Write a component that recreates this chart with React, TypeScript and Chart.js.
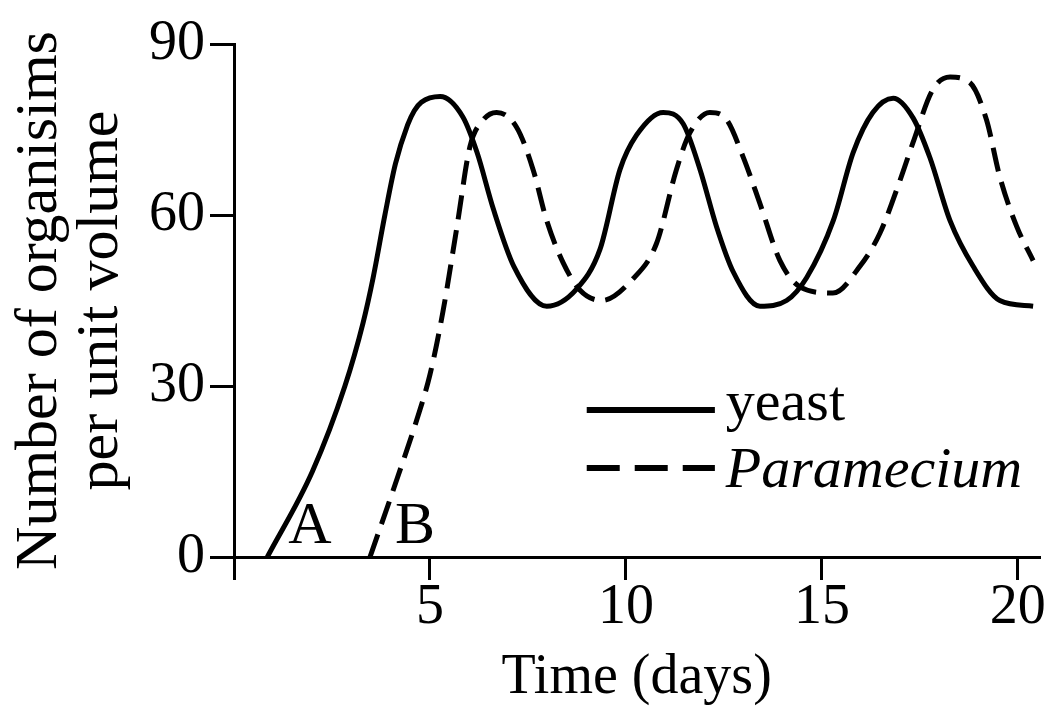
import { useEffect, useRef } from 'react';
import { Chart, registerables } from 'chart.js';

Chart.register(...registerables);

// ---- data ----
const yeastDays = [0.85, 2.0, 2.83, 3.29, 3.55, 3.85, 4.12, 4.43, 4.6, 4.78, 5.26, 5.84, 6.2, 6.62, 7.14, 7.98, 8.74, 9.34, 9.85, 10.27, 10.95, 11.46, 11.89, 12.31, 12.74, 13.42, 14.1, 14.61, 15.29, 15.8, 16.3, 16.82, 17.33, 17.76, 18.27, 18.86, 19.54, 20.39];
const yeastCounts = [0, 15, 30, 41, 49, 60, 69, 75.8, 78.3, 79.8, 80.8, 77.2, 71, 61, 51, 44, 47, 54, 68, 74, 78, 76, 68, 58, 50, 44, 45, 49, 59, 71, 78, 80.5, 77, 70, 59, 51, 45, 44];

const paramDays = [3.47, 4.15, 4.66, 5.0, 5.33, 5.69, 6.02, 6.36, 6.7, 7.21, 7.63, 7.98, 8.4, 8.83, 9.38, 10.15, 10.78, 11.29, 11.63, 12.14, 12.57, 12.99, 13.42, 13.93, 14.44, 15.28, 15.97, 16.48, 16.99, 17.32, 17.83, 18.27, 18.78, 19.2, 19.54, 19.97, 20.39];
const paramCounts = [0, 13.5, 24, 32, 43, 58, 72, 76.7, 78, 75.4, 68, 59, 51.6, 46.8, 45, 48.6, 55, 68, 74.4, 78, 76.7, 70.2, 62, 52, 47.4, 46.3, 51, 56.8, 66, 72.6, 82, 84.2, 83.2, 76.7, 66.7, 58, 52];

const seriesNames = ['yeast', 'Paramecium'];
const xTickValues = [0, 5, 10, 15, 20];
const yTickValues = [0, 30, 60, 90];
const xMax = 20.55;
const yMax = 90;

// curve labels A and B (day, count of text baseline)
const curveLabels = ['A', 'B'];
const curveLabelDays = [1.94, 4.62];
const curveLabelCounts = [2.5, 2.5];

const FONT = "'Liberation Serif', 'Times New Roman', serif";

const overlayPlugin = {
  id: 'overlay',
  afterDatasetsDraw(chart: any) {
    const ctx = chart.ctx as CanvasRenderingContext2D;
    const xs = chart.scales.x;
    const ys = chart.scales.y;
    ctx.save();
    ctx.fillStyle = '#000';
    ctx.textAlign = 'center';
    ctx.textBaseline = 'alphabetic';
    ctx.font = `60px ${FONT}`;
    curveLabels.forEach((t, i) => {
      ctx.fillText(t, xs.getPixelForValue(curveLabelDays[i]), ys.getPixelForValue(curveLabelCounts[i]));
    });

    // legend
    const lx0 = xs.getPixelForValue(9.0);
    const lx1 = xs.getPixelForValue(12.27);
    const tx = xs.getPixelForValue(12.55);
    const rows = [
      { y: ys.getPixelForValue(25.8), base: ys.getPixelForValue(24), dash: [] as number[], font: `58px ${FONT}` },
      { y: ys.getPixelForValue(15.6), base: ys.getPixelForValue(12.3), dash: [33, 15], font: `italic 58px ${FONT}` },
    ];
    rows.forEach((r, i) => {
      ctx.beginPath();
      ctx.setLineDash(r.dash);
      ctx.lineWidth = 6;
      ctx.strokeStyle = '#000';
      ctx.moveTo(lx0, r.y);
      ctx.lineTo(lx1, r.y);
      ctx.stroke();
      ctx.setLineDash([]);
      ctx.font = r.font;
      ctx.textAlign = 'left';
      ctx.fillText(seriesNames[i], tx, r.base);
    });
    ctx.restore();
  },
};

export default function App() {
  const ref = useRef<HTMLCanvasElement | null>(null);

  useEffect(() => {
    if (!ref.current) return;
    const chart = new Chart(ref.current, {
      type: 'line',
      data: {
        datasets: [
          {
            label: seriesNames[0],
            data: yeastDays.map((d, i) => ({ x: d, y: yeastCounts[i] })),
            borderColor: '#000',
            borderWidth: 5,
            pointRadius: 0,
            cubicInterpolationMode: 'monotone',
            fill: false,
          },
          {
            label: seriesNames[1],
            data: paramDays.map((d, i) => ({ x: d, y: paramCounts[i] })),
            borderColor: '#000',
            borderWidth: 5,
            borderDash: [24, 11],
            pointRadius: 0,
            cubicInterpolationMode: 'monotone',
            fill: false,
          },
        ],
      },
      options: {
        animation: false,
        responsive: false,
        devicePixelRatio: 1,
        layout: { padding: { top: 44, right: 6, left: 0, bottom: 0 } },
        plugins: { legend: { display: false }, tooltip: { enabled: false } },
        scales: {
          x: {
            type: 'linear',
            min: 0,
            max: xMax,
            afterFit: (s: any) => { s.height = 157; },
            afterBuildTicks: (s: any) => { s.ticks = xTickValues.map((v) => ({ value: v })); },
            ticks: {
              autoSkip: false,
              maxRotation: 0,
              includeBounds: false,
              padding: 0,
              color: '#000',
              font: { family: FONT, size: 56, lineHeight: 1 },
              callback: (v: any) => (v === 0 ? '' : String(v)),
            },
            grid: { drawOnChartArea: false, drawTicks: true, tickLength: 23, color: '#000', lineWidth: 3, tickWidth: 3 },
            border: { display: true, color: '#000', width: 3 },
            title: {
              display: true,
              text: 'Time (days)',
              color: '#000',
              font: { family: FONT, size: 56, lineHeight: 1 },
              padding: { top: 0, bottom: 8 },
            },
          },
          y: {
            type: 'linear',
            min: 0,
            max: yMax,
            afterFit: (s: any) => { s.width = 234; },
            afterBuildTicks: (s: any) => { s.ticks = yTickValues.map((v) => ({ value: v })); },
            ticks: {
              autoSkip: false,
              padding: 5,
              color: '#000',
              font: { family: FONT, size: 56, lineHeight: 1 },
            },
            grid: { drawOnChartArea: false, drawTicks: true, tickLength: 24, color: '#000', lineWidth: 3, tickWidth: 3 },
            border: { display: true, color: '#000', width: 3 },
            title: {
              display: true,
              text: ['Number of organisims', 'per unit volume'],
              color: '#000',
              font: { family: FONT, size: 60, lineHeight: 1.03 },
              padding: { top: 9, bottom: 0 },
            },
          },
        },
      },
      plugins: [overlayPlugin],
    });
    return () => chart.destroy();
  }, []);

  return (
    <div style={{ position: 'fixed', left: 0, top: 0, width: 1046, height: 714, background: '#fff' }}>
      <canvas ref={ref} width={1046} height={714} style={{ display: 'block', width: 1046, height: 714 }} />
    </div>
  );
}
